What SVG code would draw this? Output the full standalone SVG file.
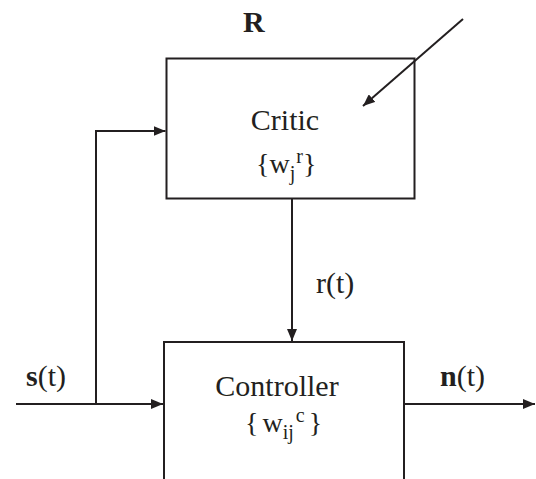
<svg xmlns="http://www.w3.org/2000/svg" width="536" height="479" viewBox="0 0 536 479">
  <defs>
    <marker id="arr" viewBox="0 0 12 10" refX="12" refY="5" markerWidth="12" markerHeight="10" markerUnits="userSpaceOnUse" orient="auto">
      <path d="M0,0 L12,5 L0,10 Z" fill="#231f20"/>
    </marker>
    <style>
      .box { fill: none; stroke: #231f20; stroke-width: 2; }
      .wire { fill: none; stroke: #231f20; stroke-width: 2; }
      text { font-family: "Liberation Serif", "Times New Roman", serif; fill: #231f20; }
      .t { font-size: 30px; }
      .w { font-size: 28px; }
      .s { font-size: 20px; }
      .b { font-weight: bold; }
    </style>
  </defs>
  <rect width="536" height="479" fill="#ffffff"/>

  <g id="critic">
    <rect class="box" x="166.5" y="58.5" width="248" height="140"/>
    <text class="t" x="285" y="130" text-anchor="middle">Critic</text>
    <text class="w" x="256" y="173">{w<tspan class="s" dy="7">j</tspan><tspan class="s" dy="-17" dx="1">r</tspan><tspan class="w" dy="10">}</tspan></text>
  </g>

  <g id="controller">
    <rect class="box" x="164" y="342" width="240" height="150"/>
    <text class="t" x="277" y="396" text-anchor="middle">Controller</text>
    <text class="w" x="245" y="432">{<tspan dx="4">w</tspan><tspan class="s" dy="7">ij</tspan><tspan class="s" dy="-17" dx="2">c</tspan><tspan class="w" dy="10" dx="4">}</tspan></text>
  </g>

  <g id="connectors">
    <path class="wire" d="M16,404 H163" marker-end="url(#arr)"/>
    <path class="wire" d="M96,404 V131 H165.5" marker-end="url(#arr)"/>
    <path class="wire" d="M292,199 V341" marker-end="url(#arr)"/>
    <path class="wire" d="M405,404 H535" marker-end="url(#arr)"/>
    <path class="wire" d="M463,19 L363,106" marker-end="url(#arr)"/>
  </g>

  <g id="labels">
    <text class="t" x="243" y="32"><tspan class="b">R</tspan></text>
    <text class="t" x="316" y="293">r(t)</text>
    <text class="t" x="26" y="386"><tspan class="b">s</tspan>(t)</text>
    <text class="t" x="440" y="386"><tspan class="b">n</tspan>(t)</text>
  </g>
</svg>
